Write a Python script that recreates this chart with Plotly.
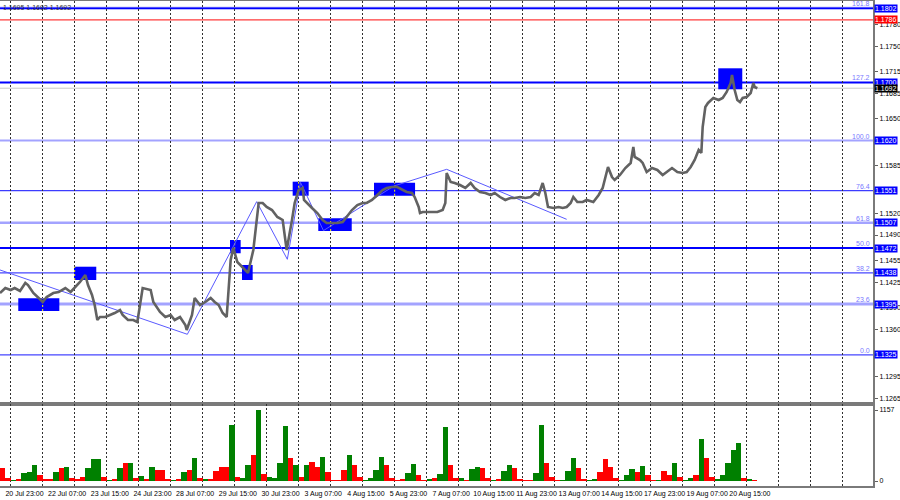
import plotly.graph_objects as go

# ---------------- data ----------------
price_bar = [0,4,8,11,15,19,21,25,29,32,
             35,40,44,49,53,56,60,64,66,69,
             71,73,75,79,83,86,90,92,96,100,
             103,107,113,115,120,124,128,131,135,139,
             140,144,146,150,154,158,161,164,167,170,
             173,175,178,182,186,190,193,194,197,200,
             204,208,212,214,215,219,221,224,227,228,
             230,234,238,242,245,249,253,257,260,264,
             268,272,275,279,283,287,290,294,298,302,
             305,309,311,314,315,317,323,328,332,334,
             335,338,341,345,349,353,356,360,364,368,
             371,375,379,383,386,390,394,398,401,404,
             407,409,411,415,419,422,425,428,430,433,
             437,440,445,449,452,454,456,459,461,465,
             469,473,475,476,480,482,485,489,493,497,
             500,504,508,512,515,518,521,524,526,527,
             529,531,535,539,542,545,548,549,551,553,
             555,557,560,563,565,566,568]
price_close = [1.14102,1.14171,1.14144,1.14171,1.14130,1.14240,1.14212,1.14102,1.14034,1.13978,
               1.14047,1.14102,1.14116,1.14171,1.14116,1.14171,1.14254,1.14350,1.14212,1.14075,
               1.13937,1.13731,1.13772,1.13772,1.13800,1.13827,1.13868,1.13800,1.13731,1.13731,
               1.13703,1.14171,1.14144,1.13978,1.13841,1.13772,1.13800,1.13731,1.13772,1.13662,
               1.13593,1.13800,1.14034,1.13937,1.13978,1.14034,1.13978,1.13937,1.13827,1.13772,
               1.14556,1.14722,1.14529,1.14446,1.14378,1.14694,1.15203,1.15341,1.15341,1.15286,
               1.15244,1.15148,1.15107,1.14873,1.14694,1.15107,1.15341,1.15520,1.15547,1.15382,
               1.15341,1.15272,1.15203,1.15107,1.15066,1.15066,1.15066,1.15079,1.15148,1.15244,
               1.15313,1.15341,1.15341,1.15382,1.15451,1.15520,1.15547,1.15561,1.15561,1.15520,
               1.15492,1.15478,1.15423,1.15286,1.15203,1.15217,1.15217,1.15217,1.15244,1.15341,
               1.15754,1.15630,1.15616,1.15588,1.15547,1.15616,1.15547,1.15492,1.15478,1.15451,
               1.15478,1.15423,1.15382,1.15410,1.15410,1.15423,1.15410,1.15423,1.15478,1.15451,
               1.15616,1.15478,1.15286,1.15272,1.15286,1.15272,1.15286,1.15341,1.15423,1.15354,
               1.15354,1.15382,1.15354,1.15451,1.15547,1.15698,1.15836,1.15698,1.15657,1.15726,
               1.15822,1.15891,1.16111,1.15974,1.15932,1.15891,1.15767,1.15822,1.15795,1.15726,
               1.15767,1.15822,1.15767,1.15754,1.15767,1.15836,1.15932,1.16070,1.16029,1.16386,
               1.16662,1.16717,1.16786,1.16758,1.16786,1.16868,1.16992,1.17102,1.16896,1.16758,
               1.16730,1.16786,1.16799,1.16854,1.16992,1.16937,1.16920]

# volume per 4-bar group
vol_values = [206,43,16,33,125,150,260,100,27,33,
              150,206,233,43,27,70,206,353,353,70,
              16,27,206,288,300,43,81,27,233,180,
              180,27,16,27,150,180,370,43,27,27,
              163,233,233,910,70,43,260,424,1157,120,
              70,43,288,900,370,260,70,260,315,233,
              396,150,16,16,180,424,260,70,16,43,
              180,385,260,43,16,27,136,277,98,16,
              27,43,114,885,260,43,43,16,195,233,
              206,43,16,27,168,260,206,27,16,16,
              136,912,288,70,16,16,163,370,206,27,
              16,27,150,353,233,43,16,98,195,150,
              245,98,16,16,168,98,288,70,16,43,
              98,680,370,70,33,98,288,505,614,43,
              33,16]
vol_dir = ("rrgrgggrrr" "grgrrrgggr" "grgrgrgrgr" "rrgrgrgrgr" "rrrgrggrgr"
           "ggggrgrgrr" "grrrrgrrgg" "ggrrrrggrr" "grggrrgrgg" "rrgrggrrrr"
           "ggrrrgggrr" "ggrrrrgggr" "grrgrrgrgg" "rgrrgggggr" "gr")
bars_per_group = 4
vol_max_label = 1157

fib_levels = [1.1802, 1.1700, 1.1620, 1.1551, 1.1507, 1.1472, 1.1438, 1.1395, 1.1325]
fib_names = ["161.8", "127.2", "100.0", "76.4", "61.8", "50.0", "38.2", "23.6", "0.0"]
red_level = 1.1786
last_price = 1.1692

box_start = [13.7, 55.5, 172.5, 181.5, 219.5, 238.7, 280.5, 538.7]
box_end = [44.5, 72.2, 180.5, 189.5, 231.5, 263.8, 311.3, 556.7]
box_low = [1.13855, 1.14281, 1.14649, 1.14281, 1.15441, 1.14955, 1.15441, 1.16905]
box_high = [1.14029, 1.14464, 1.14832, 1.14488, 1.15634, 1.15130, 1.15620, 1.17194]

zigzag_bar = [0, 140.5, 192.5, 215.5, 225.4, 242.6, 295.5, 335, 425]
zigzag_price = [1.14419, 1.13534, 1.15359, 1.14566, 1.15623, 1.14961, 1.15575, 1.15804, 1.15116]

price_ticks = [1.1780, 1.1750, 1.1715, 1.1685, 1.1650, 1.1585, 1.1520, 1.1490,
               1.1455, 1.1425, 1.1390, 1.1360, 1.1295, 1.1265]
date_labels = ["20 Jul 23:00", "22 Jul 07:00", "23 Jul 15:00", "24 Jul 23:00", "28 Jul 07:00",
               "29 Jul 15:00", "30 Jul 23:00", "3 Aug 07:00", "4 Aug 15:00", "5 Aug 23:00",
               "7 Aug 07:00", "10 Aug 15:00", "11 Aug 23:00", "13 Aug 07:00", "14 Aug 15:00",
               "17 Aug 23:00", "19 Aug 07:00", "20 Aug 15:00"]
first_label_bar = 18.4
bars_between_labels = 32
grid_first_bar = 8
grid_step = 24
header_text = "1.1695 1.1692 1.1692"

# ---------------- layout constants ----------------
W, H = 900, 500
ML, MR, MT, MB = 0, 27, 1, 14
plot_w = W - ML - MR
px_per_bar = 4.0 / 3.0
x_range = [0, plot_w / px_per_bar]
vol_split = (486 - 404) / (486 - 1)
y_range = [1.12575, 1.18120]
v_range = [-81.5, 1255]

fib_style = {
    1.1802: ("#0000ff", 1.5),
    1.1700: ("#0000ff", 2),
    1.1620: ("#a3a3ff", 2),
    1.1551: ("#3c3cff", 1.3),
    1.1507: ("#a3a3ff", 2.5),
    1.1472: ("#0000ff", 2),
    1.1438: ("#4646ff", 1.3),
    1.1395: ("#a3a3ff", 3),
    1.1325: ("#4646ff", 1.3),
}

fig = go.Figure()

vol_x = [i * bars_per_group + bars_per_group / 2 for i in range(len(vol_values))]
vol_colors = ["#008000" if d == "g" else "#ff0000" for d in vol_dir]
fig.add_trace(go.Bar(x=vol_x, y=vol_values, width=bars_per_group, marker=dict(color=vol_colors, line=dict(width=0)),
                     xaxis="x2", yaxis="y2", showlegend=False, hoverinfo="skip"))

fig.add_trace(go.Scatter(x=zigzag_bar, y=zigzag_price, mode="lines", line=dict(color="#5a5aff", width=1),
                         xaxis="x", yaxis="y", showlegend=False, hoverinfo="skip"))
fig.add_trace(go.Scatter(x=price_bar, y=price_close, mode="lines", line=dict(color="#626262", width=2.6),
                         xaxis="x", yaxis="y", showlegend=False, hoverinfo="skip"))

shapes = []
for s, e, lo, hi in zip(box_start, box_end, box_low, box_high):
    shapes.append(dict(type="rect", xref="x", yref="y", x0=s, x1=e, y0=lo, y1=hi,
                       fillcolor="#0000ff", line=dict(width=0), layer="between"))
    g = grid_first_bar
    while g <= e:
        if g >= s:
            shapes.append(dict(type="line", xref="x", yref="y", x0=g, x1=g, y0=lo, y1=hi,
                               line=dict(color="#ffff00", width=1, dash="2px,2px"), layer="between"))
        g += grid_step

shapes.append(dict(type="line", xref="paper", yref="y", x0=0, x1=1, y0=1.1802, y1=1.1802,
                   line=dict(color="#a3a3ff", width=3), layer="between"))
for lvl in fib_levels:
    c, w = fib_style[lvl]
    shapes.append(dict(type="line", xref="paper", yref="y", x0=0, x1=1, y0=lvl, y1=lvl,
                       line=dict(color=c, width=w), layer="between"))
shapes.append(dict(type="line", xref="paper", yref="y", x0=0, x1=1, y0=red_level, y1=red_level,
                   line=dict(color="#ff3b3b", width=1.2), layer="between"))
shapes.append(dict(type="line", xref="paper", yref="y", x0=0, x1=1, y0=last_price, y1=last_price,
                   line=dict(color="#c8c8c8", width=1), layer="between"))

annotations = []
FONT = "Liberation Sans, Arial, sans-serif"
for lvl, name in zip(fib_levels, fib_names):
    annotations.append(dict(xref="paper", yref="y", x=1, y=lvl, xanchor="right", yanchor="bottom",
                            text=name, showarrow=False, xshift=-1, yshift=-1,
                            font=dict(family=FONT, size=7, color="#7a7aff")))
    annotations.append(dict(xref="paper", yref="y", x=1, y=lvl, xanchor="left", yanchor="middle",
                            text=f"{lvl:.4f}", showarrow=False, xshift=1, bgcolor="#0000ff",
                            borderpad=0, font=dict(family=FONT, size=7, color="#ffffff")))
annotations.append(dict(xref="paper", yref="y", x=1, y=red_level, xanchor="left", yanchor="middle",
                        text=f"{red_level:.4f}", showarrow=False, xshift=1, bgcolor="#ff0000",
                        borderpad=0, font=dict(family=FONT, size=7, color="#ffffff")))
annotations.append(dict(xref="paper", yref="y", x=1, y=last_price, xanchor="left", yanchor="middle",
                        text=f"{last_price:.4f}", showarrow=False, xshift=1, bgcolor="#000000",
                        borderpad=0, font=dict(family=FONT, size=7, color="#ffffff")))
annotations.append(dict(xref="paper", yref="paper", x=0, y=1, xanchor="left", yanchor="top",
                        text=header_text, showarrow=False, yshift=-1, xshift=1,
                        font=dict(family=FONT, size=7, color="#333333")))

label_pos = [first_label_bar + bars_between_labels * i for i in range(len(date_labels))]

minor_grid = dict(tickmode="linear", tick0=grid_first_bar, dtick=grid_step, showgrid=True,
                  gridcolor="#303030", griddash="2px,2px", gridwidth=1, ticks="")

fig.update_layout(
    width=W, height=H, margin=dict(l=ML, r=MR, t=MT, b=MB, autoexpand=False),
    paper_bgcolor="#ffffff", plot_bgcolor="#ffffff",
    showlegend=False, bargap=0,
    font=dict(family=FONT, size=7, color="#000000"),
    xaxis=dict(domain=[0, 1], range=x_range, anchor="y", showgrid=False, showticklabels=False,
               ticks="", zeroline=False, showline=True, mirror=True, linecolor="#7a7a7a", linewidth=2,
               minor=minor_grid, automargin=False),
    yaxis=dict(domain=[vol_split, 1], range=y_range, side="right", anchor="x", showgrid=False,
               zeroline=False, tickvals=price_ticks, ticktext=[f"{v:.4f}" for v in price_ticks],
               ticks="outside", ticklen=3, tickcolor="#606060", showline=True, linecolor="#7a7a7a",
               linewidth=2, tickfont=dict(size=7, color="#000"), automargin=False),
    xaxis2=dict(domain=[0, 1], range=x_range, anchor="y2", matches="x", showgrid=False,
                tickvals=label_pos, ticktext=date_labels, ticks="", zeroline=False, tickangle=0,
                showline=True, mirror=True, linecolor="#7a7a7a", linewidth=2,
                tickfont=dict(size=7, color="#000"), minor=minor_grid, automargin=False),
    yaxis2=dict(domain=[0, vol_split], range=v_range, side="right", anchor="x2", showgrid=False,
                zeroline=False, tickvals=[0, vol_max_label], ticktext=["0", str(vol_max_label)],
                ticks="outside", ticklen=3, tickcolor="#606060", showline=True, linecolor="#7a7a7a",
                linewidth=2, tickfont=dict(size=7, color="#000"), automargin=False),
    shapes=shapes, annotations=annotations,
)

fig.write_html("out.html", config={"displayModeBar": False},
               post_script="document.body.style.margin='0';document.body.style.padding='0';")
